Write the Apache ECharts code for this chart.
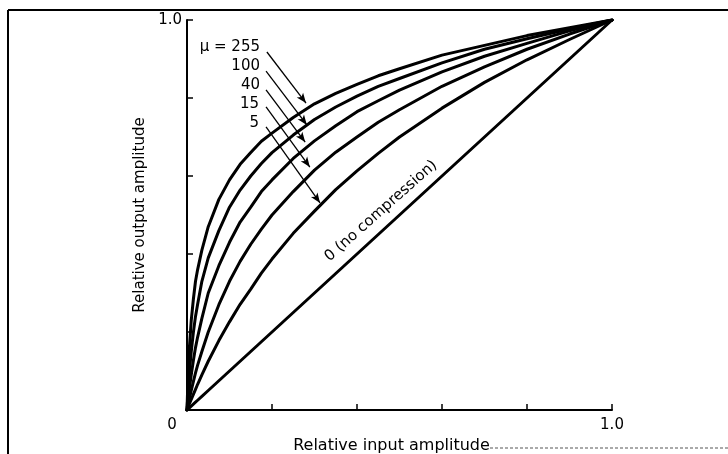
<!DOCTYPE html>
<html>
<head>
<meta charset="utf-8">
<script src="https://cdn.jsdelivr.net/npm/echarts@6/dist/echarts.min.js"></script>
<style>
html,body{margin:0;padding:0;background:#fff;}
#c{width:728px;height:454px;}
</style>
</head>
<body>
<div id="c"></div>
<script>
// Relative input amplitude (x) sample points
const xs    = [0, 0.0025, 0.005, 0.01, 0.015, 0.02, 0.025, 0.035, 0.05, 0.075, 0.1, 0.125, 0.15, 0.175, 0.2, 0.25, 0.3, 0.35, 0.4, 0.45, 0.5, 0.6, 0.7, 0.8, 0.9, 1.0];
// Relative output amplitude for each compression curve
const mu255 = [0, 0.089, 0.15, 0.23, 0.284, 0.33, 0.36, 0.41, 0.47, 0.54, 0.59, 0.63, 0.66, 0.689, 0.71, 0.75, 0.785, 0.812, 0.835, 0.857, 0.875, 0.91, 0.935, 0.96, 0.98, 1.0];
const mu100 = [0, 0.048, 0.09, 0.15, 0.199, 0.24, 0.271, 0.33, 0.39, 0.46, 0.52, 0.564, 0.60, 0.632, 0.66, 0.705, 0.745, 0.777, 0.805, 0.83, 0.85, 0.89, 0.925, 0.952, 0.977, 1.0];
const mu40  = [0, 0.026, 0.05, 0.09, 0.127, 0.16, 0.187, 0.235, 0.30, 0.37, 0.43, 0.482, 0.52, 0.56, 0.59, 0.645, 0.69, 0.729, 0.765, 0.793, 0.82, 0.867, 0.907, 0.94, 0.972, 1.0];
const mu15  = [0, 0.013, 0.026, 0.05, 0.073, 0.095, 0.115, 0.15, 0.20, 0.27, 0.33, 0.381, 0.425, 0.464, 0.50, 0.56, 0.615, 0.661, 0.70, 0.738, 0.77, 0.83, 0.88, 0.925, 0.964, 1.0];
const mu5   = [0, 0.007, 0.014, 0.027, 0.04, 0.053, 0.066, 0.09, 0.125, 0.178, 0.226, 0.271, 0.31, 0.351, 0.387, 0.453, 0.51, 0.565, 0.613, 0.658, 0.70, 0.774, 0.84, 0.898, 0.95, 1.0];
const mu0   = [0, 0.0025, 0.005, 0.01, 0.015, 0.02, 0.025, 0.035, 0.05, 0.075, 0.1, 0.125, 0.15, 0.175, 0.2, 0.25, 0.3, 0.35, 0.4, 0.45, 0.5, 0.6, 0.7, 0.8, 0.9, 1.0];

const curveNames = ['255', '100', '40', '15', '5', '0'];
const curveValues = [mu255, mu100, mu40, mu15, mu5, mu0];

// Arrow annotations (data coords): label end -> curve
const arrowStarts = [[0.188, 0.918], [0.186, 0.869], [0.186, 0.821], [0.186, 0.777], [0.186, 0.726]];
const arrowEnds   = [[0.280, 0.787], [0.282, 0.731], [0.278, 0.687], [0.289, 0.623], [0.313, 0.531]];

const FONT = 'DejaVu Sans';

const series = curveValues.map((vals, i) => ({
  name: 'mu=' + curveNames[i],
  type: 'line',
  data: xs.map((x, j) => [x, vals[j]]),
  showSymbol: false,
  smooth: false,
  lineStyle: { color: '#000', width: 3, join: 'round', cap: 'round' },
  silent: true,
  z: 3
}));

series.push({
  type: 'line',
  data: [],
  silent: true,
  markLine: {
    silent: true,
    symbol: ['none', 'arrow'],
    symbolSize: [6, 10],
    label: { show: false },
    lineStyle: { color: '#000', width: 1.3, type: 'solid' },
    data: arrowStarts.map((s, i) => [{ coord: s }, { coord: arrowEnds[i] }])
  }
});

const chart = echarts.init(document.getElementById('c'), null, { renderer: 'canvas' });
chart.setOption({
  backgroundColor: '#fff',
  animation: false,
  grid: { left: 187, right: 116, top: 20, bottom: 44, containLabel: false, outerBoundsMode: 'none' },
  xAxis: {
    type: 'value', min: 0, max: 1, interval: 0.2,
    axisLine: { lineStyle: { color: '#000', width: 2 } },
    axisTick: { inside: true, length: 6, lineStyle: { color: '#000', width: 1.5 } },
    splitLine: { show: false },
    axisLabel: {
      margin: 8,
      color: '#000', fontFamily: FONT, fontSize: 15,
      formatter: v => v === 0 ? '{z|0}' : (v === 1 ? '1.0' : ''),
      rich: { z: { fontFamily: FONT, fontSize: 15, color: '#000', padding: [0, 30, 0, 0] } }
    },
    name: 'Relative input amplitude',
    nameLocation: 'middle',
    nameGap: 27,
    nameTextStyle: { color: '#000', fontFamily: FONT, fontSize: 16, padding: [0, 16, 0, 0] }
  },
  yAxis: {
    type: 'value', min: 0, max: 1, interval: 0.2,
    axisLine: { lineStyle: { color: '#000', width: 2 } },
    axisTick: { inside: true, length: 6, lineStyle: { color: '#000', width: 1.5 } },
    splitLine: { show: false },
    axisLabel: {
      margin: 5,
      color: '#000', fontFamily: FONT, fontSize: 15,
      formatter: v => v === 1 ? '1.0' : ''
    },
    name: 'Relative output amplitude',
    nameLocation: 'middle',
    nameGap: 13,
    nameTextStyle: { color: '#000', fontFamily: FONT, fontSize: 15 }
  },
  series: series,
  graphic: [
    { type: 'line', shape: { x1: 8, y1: 10, x2: 728, y2: 10 }, style: { stroke: '#000', lineWidth: 2 } },
    { type: 'line', shape: { x1: 8, y1: 10, x2: 8, y2: 454 }, style: { stroke: '#000', lineWidth: 2 } },
    { type: 'line', shape: { x1: 490, y1: 448, x2: 728, y2: 448 }, style: { stroke: '#555', lineWidth: 1, lineDash: [3, 2] } },
    { type: 'text', x: 260, y: 47, style: { text: 'μ = 255', fill: '#000', font: '15px "DejaVu Sans"', textAlign: 'right', textVerticalAlign: 'middle' } },
    { type: 'text', x: 260, y: 66, style: { text: '100', fill: '#000', font: '15px "DejaVu Sans"', textAlign: 'right', textVerticalAlign: 'middle' } },
    { type: 'text', x: 260, y: 85, style: { text: '40', fill: '#000', font: '15px "DejaVu Sans"', textAlign: 'right', textVerticalAlign: 'middle' } },
    { type: 'text', x: 259, y: 104, style: { text: '15', fill: '#000', font: '15px "DejaVu Sans"', textAlign: 'right', textVerticalAlign: 'middle' } },
    { type: 'text', x: 259, y: 123, style: { text: '5', fill: '#000', font: '15px "DejaVu Sans"', textAlign: 'right', textVerticalAlign: 'middle' } },
    { type: 'text', x: 381, y: 211, rotation: 41.5 * Math.PI / 180, style: { text: '0 (no compression)', fill: '#000', font: '15px "DejaVu Sans"', textAlign: 'center', textVerticalAlign: 'middle' } }
  ]
});
</script>
</body>
</html>
